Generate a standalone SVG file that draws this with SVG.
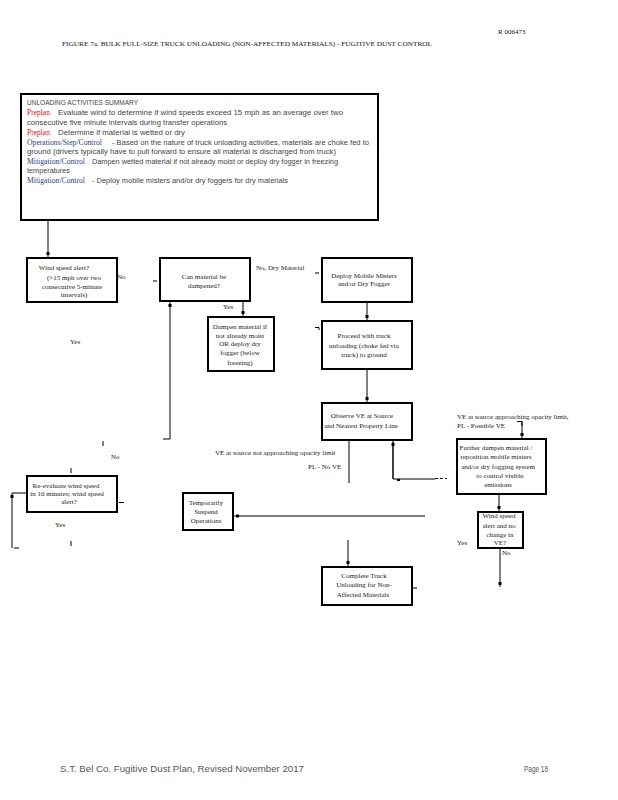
<svg xmlns="http://www.w3.org/2000/svg" width="618" height="800" viewBox="0 0 618 800">
<style>
.bx{fill:#fff;stroke:#000;stroke-width:2}
.ln{fill:none;stroke:#000;stroke-width:1}
.t{font-family:"Liberation Serif","Times New Roman",serif;font-size:7px;fill:#1a1a1a}
.c{text-anchor:middle}
.s{font-family:"Liberation Sans",Arial,sans-serif;font-size:7px;fill:#444}
.red{font-family:"Liberation Serif",serif;font-size:7.5px;fill:#ff0000}
.blu{font-family:"Liberation Serif",serif;font-size:7.5px;fill:#23408e}
.hd{font-family:"Liberation Serif","Times New Roman",serif;font-size:7px;fill:#111}
.ft{font-family:"Liberation Sans",Arial,sans-serif;font-size:9px;fill:#555}
</style>
<defs>
<marker id="dot" markerUnits="userSpaceOnUse" markerWidth="10" markerHeight="4" viewBox="0 0 10 4" refX="10" refY="2" orient="auto">
<rect x="5" y="0.5" width="3" height="3" fill="#000"/>
</marker>
</defs>
<rect width="618" height="800" fill="#fff"/>
<g id="header">
<text class="hd" x="498" y="34" font-size="8.5">R  006473</text>
<text class="hd" x="62" y="46" textLength="370" lengthAdjust="spacingAndGlyphs">FIGURE 7a.  BULK FULL-SIZE TRUCK UNLOADING (NON-AFFECTED MATERIALS) - FUGITIVE DUST CONTROL</text>
</g>
<g id="summary">
<rect class="bx" x="21" y="94" width="357" height="126"/>
<text class="s" x="27" y="105" textLength="111" lengthAdjust="spacingAndGlyphs">UNLOADING ACTIVITIES SUMMARY</text>
<text class="red" x="27" y="115">Preplan</text>
<text class="s" x="58" y="115" textLength="285" lengthAdjust="spacingAndGlyphs">Evaluate wind to determine if wind speeds exceed 15 mph as an average over two</text>
<text class="s" x="27" y="125" textLength="200" lengthAdjust="spacingAndGlyphs">consecutive five minute intervals during transfer operations</text>
<text class="red" x="27" y="135">Preplan</text>
<text class="s" x="58" y="135" textLength="127" lengthAdjust="spacingAndGlyphs">Determine if material is wetted or dry</text>
<text class="blu" x="27" y="145" textLength="75" lengthAdjust="spacingAndGlyphs">Operations/Step/Control</text>
<text class="s" x="112" y="145" textLength="257" lengthAdjust="spacingAndGlyphs">- Based on the nature of truck unloading activities, materials are choke fed to</text>
<text class="s" x="27" y="154" textLength="309" lengthAdjust="spacingAndGlyphs">ground (drivers typically have to pull forward to ensure all material is discharged from truck)</text>
<text class="blu" x="27" y="164" textLength="58" lengthAdjust="spacingAndGlyphs">Mitigation/Control</text>
<text class="s" x="92" y="164" textLength="246" lengthAdjust="spacingAndGlyphs">Dampen wetted material if not already moist or deploy dry fogger in freezing</text>
<text class="s" x="27" y="173" textLength="43" lengthAdjust="spacingAndGlyphs">temperatures</text>
<text class="blu" x="27" y="183" textLength="58" lengthAdjust="spacingAndGlyphs">Mitigation/Control</text>
<text class="s" x="92" y="183" textLength="196" lengthAdjust="spacingAndGlyphs">- Deploy mobile misters and/or dry foggers for dry materials</text>
</g>
<g id="connectors">
<line class="ln" x1="48" y1="220" x2="48" y2="257" marker-end="url(#dot)"/>
<line class="ln" x1="243" y1="301" x2="243" y2="316" marker-end="url(#dot)"/>
<line class="ln" x1="170" y1="439" x2="170" y2="302" marker-end="url(#dot)"/>
<line class="ln" x1="163" y1="439" x2="170" y2="439" stroke-width="1.5"/>
<line class="ln" x1="367" y1="302" x2="367" y2="320" marker-end="url(#dot)"/>
<line class="ln" x1="367" y1="369" x2="367" y2="402" marker-end="url(#dot)"/>
<line class="ln" x1="349" y1="440" x2="349" y2="483"/>
<polyline class="ln" points="435,479 393,479 393,442"/>
<line class="ln" x1="393" y1="479" x2="393" y2="441" marker-end="url(#dot)"/>
<rect x="397" y="479" width="3" height="2" fill="#000"/>
<line class="ln" x1="435" y1="478.5" x2="447" y2="478.5" stroke-dasharray="3,2"/>
<polyline class="ln" points="517,421.5 522,421.5 522,426"/>
<line class="ln" x1="522" y1="421" x2="522" y2="438" marker-end="url(#dot)"/>
<line class="ln" x1="499" y1="494" x2="499" y2="511" marker-end="url(#dot)"/>
<line class="ln" x1="500" y1="548" x2="500" y2="587" marker-end="url(#dot)"/>
<line class="ln" x1="425" y1="516" x2="234" y2="516" marker-end="url(#dot)"/>
<line class="ln" x1="348" y1="540" x2="348" y2="566" marker-end="url(#dot)"/>
<line class="ln" x1="27" y1="493" x2="12" y2="493"/>
<line class="ln" x1="12" y1="548" x2="12" y2="493" marker-end="url(#dot)"/>
<line class="ln" x1="14" y1="548" x2="19" y2="548" stroke-width="1.5"/>
<line class="ln" x1="153" y1="281" x2="157" y2="281" stroke-width="1.5"/>
<line class="ln" x1="315" y1="273" x2="319" y2="273" stroke-width="1.5"/>
<polyline class="ln" points="315,327.5 319,327.5 319,330" stroke-width="1.5"/>
<line class="ln" x1="413" y1="588" x2="417" y2="588" stroke-width="1.5"/>
<line class="ln" x1="103" y1="441" x2="103" y2="446" stroke-width="1.5"/>
<line class="ln" x1="71" y1="468" x2="71" y2="473" stroke-width="1.5"/>
<line class="ln" x1="71" y1="541" x2="71" y2="546" stroke-width="1.5"/>
<line class="ln" x1="119" y1="502.5" x2="124" y2="502.5" stroke-width="1.5"/>
</g>
<g id="labels">
<text class="t" x="117" y="279">No</text>
<text class="t" x="256" y="270">No, Dry Material</text>
<text class="t" x="223" y="309">Yes</text>
<text class="t" x="70" y="344">Yes</text>
<text class="t" x="111" y="459">No</text>
<text class="t" x="55" y="527">Yes</text>
<text class="t" x="215" y="455">VE at source not approaching opacity limit</text>
<text class="t" x="308" y="469">PL - No VE</text>
<text class="t" x="457" y="419">VE at source approaching opacity limit,</text>
<text class="t" x="457" y="428">PL - Possible VE</text>
<text class="t" x="457" y="545">Yes</text>
<text class="t" x="502" y="555">No</text>
</g>
<g id="n-wind">
<rect class="bx" x="27" y="258" width="90" height="44"/>
<text class="t c" x="64" y="270">Wind speed alert?</text>
<text class="t c" x="74" y="280">(&gt;15 mph over two</text>
<text class="t c" x="72" y="289">consecutive 5-minute</text>
<text class="t c" x="74" y="297">intervals)</text>
</g>
<g id="n-can">
<rect class="bx" x="160" y="258" width="90" height="43"/>
<text class="t c" x="204" y="279">Can material be</text>
<text class="t c" x="204" y="288">dampened?</text>
</g>
<g id="n-dampen">
<rect class="bx" x="208" y="317" width="66" height="54"/>
<text class="t c" x="240" y="329">Dampen material if</text>
<text class="t c" x="240" y="338">not already moist</text>
<text class="t c" x="240" y="346">OR deploy dry</text>
<text class="t c" x="240" y="355">fogger (below</text>
<text class="t c" x="240" y="365">freezing)</text>
</g>
<g id="n-deploy">
<rect class="bx" x="322" y="258" width="90" height="44"/>
<text class="t c" x="364" y="278">Deploy Mobile Misters</text>
<text class="t c" x="364" y="286">and/or Dry Fogger</text>
</g>
<g id="n-proceed">
<rect class="bx" x="322" y="321" width="90" height="48"/>
<text class="t c" x="364" y="338">Proceed with truck</text>
<text class="t c" x="364" y="348">unloading (choke fed via</text>
<text class="t c" x="364" y="357">truck) to ground</text>
</g>
<g id="n-observe">
<rect class="bx" x="322" y="403" width="90" height="37"/>
<text class="t c" x="362" y="418">Observe VE at Source</text>
<text class="t c" x="361" y="428">and Nearest Property Line</text>
</g>
<g id="n-further">
<rect class="bx" x="457" y="439" width="89" height="55"/>
<text class="t c" x="496" y="450">Further dampen material /</text>
<text class="t c" x="496" y="459">reposition mobile misters</text>
<text class="t c" x="498" y="469">and/or dry fogging system</text>
<text class="t c" x="500" y="478">to control visible</text>
<text class="t c" x="498" y="487">emissions</text>
</g>
<g id="n-wind2">
<rect class="bx" x="478" y="512" width="45" height="36"/>
<text class="t c" x="499" y="518">Wind speed</text>
<text class="t c" x="499" y="528">alert and no</text>
<text class="t c" x="500" y="537">change in</text>
<text class="t c" x="500" y="545">VE?</text>
</g>
<g id="n-suspend">
<rect class="bx" x="183" y="493" width="50" height="37"/>
<text class="t c" x="206" y="505">Temporarily</text>
<text class="t c" x="206" y="514">Suspend</text>
<text class="t c" x="206" y="523">Operations</text>
</g>
<g id="n-reeval">
<rect class="bx" x="27" y="476" width="90" height="36"/>
<text class="t c" x="66" y="488">Re-evaluate wind speed</text>
<text class="t c" x="67" y="496">in 10 minutes; wind speed</text>
<text class="t c" x="69" y="504">alert?</text>
</g>
<g id="n-complete">
<rect class="bx" x="322" y="567" width="90" height="38"/>
<text class="t c" x="364" y="578">Complete Truck</text>
<text class="t c" x="364" y="587">Unloading for Non-</text>
<text class="t c" x="363" y="597">Affected Materials</text>
</g>
<g id="footer">
<text class="ft" x="60" y="772" textLength="244" lengthAdjust="spacingAndGlyphs">S.T. Bel Co. Fugitive Dust Plan, Revised November 2017</text>
<text class="ft" x="524" y="772" textLength="24" lengthAdjust="spacingAndGlyphs">Page 18</text>
</g>
</svg>
